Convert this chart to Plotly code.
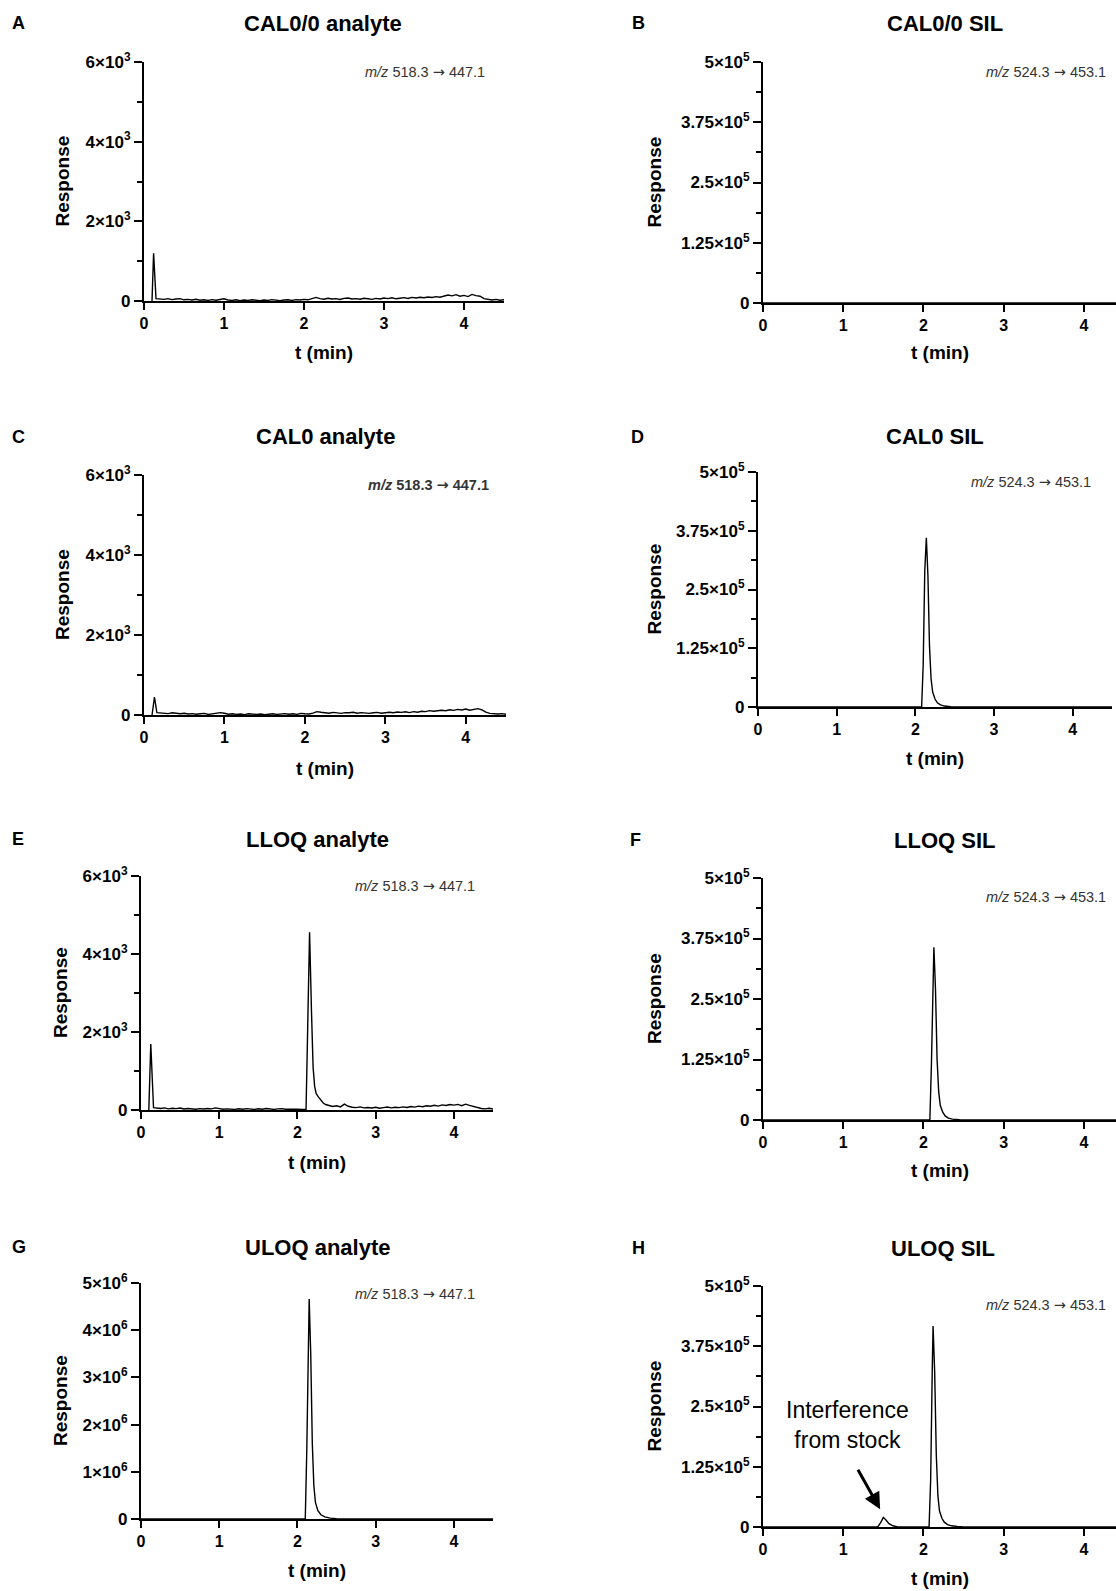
import plotly.graph_objects as go

W, H = 1116, 1591
FONT = "Liberation Sans, Arial, sans-serif"

def px(x):
    return x / W

def py(y):
    return 1 - y / H

# ---------------- data ----------------
t_grid = [0.20, 0.25, 0.30, 0.35, 0.40, 0.45, 0.50, 0.55, 0.60, 0.65,
          0.70, 0.75, 0.80, 0.85, 0.90, 0.95, 1.00, 1.05, 1.10, 1.15,
          1.20, 1.25, 1.30, 1.35, 1.40, 1.45, 1.50, 1.55, 1.60, 1.65,
          1.70, 1.75, 1.80, 1.85, 1.90, 1.95, 2.00, 2.05, 2.10, 2.15,
          2.20, 2.25, 2.30, 2.35, 2.40, 2.45, 2.50, 2.55, 2.60, 2.65,
          2.70, 2.75, 2.80, 2.85, 2.90, 2.95, 3.00, 3.05, 3.10, 3.15,
          3.20, 3.25, 3.30, 3.35, 3.40, 3.45, 3.50, 3.55, 3.60, 3.65,
          3.70, 3.75, 3.80, 3.85, 3.90, 3.95, 4.00, 4.05, 4.10, 4.15,
          4.20, 4.25, 4.30, 4.35, 4.40, 4.45, 4.50]

# A: CAL0/0 analyte
A_peak_t = [0.10, 0.12, 0.15]
A_peak_y = [0, 1200, 60]
A_base = [55, 40, 60, 35, 50, 60, 30, 40, 25, 45,
          20, 30, 15, 35, 20, 40, 55, 25, 15, 30,
          10, 25, 15, 30, 20, 10, 25, 15, 35, 20,
          10, 25, 30, 15, 35, 25, 40, 30, 55, 90,
          60, 45, 70, 50, 60, 40, 65, 75, 50, 60,
          45, 70, 55, 40, 65, 50, 75, 60, 80, 55,
          70, 85, 65, 90, 75, 95, 80, 100, 90, 110,
          95, 125, 150, 130, 160, 120, 140, 110, 165, 135,
          120, 60, 35, 25, 40, 20, 30]

# B: CAL0/0 SIL (blank)
B_t = [0.0, 1.0, 2.0, 3.0, 4.0, 4.4]
B_y = [0, 0, 0, 0, 0, 0]

# C: CAL0 analyte
C_peak_t = [0.10, 0.13, 0.16]
C_peak_y = [0, 450, 60]
C_base = [50, 45, 35, 55, 40, 30, 45, 25, 35, 20,
          30, 40, 15, 25, 35, 60, 45, 20, 30, 15,
          25, 10, 30, 20, 15, 25, 10, 20, 30, 15,
          25, 35, 20, 30, 15, 40, 30, 25, 45, 85,
          70, 55, 45, 65, 50, 40, 60, 55, 70, 45,
          60, 50, 40, 55, 65, 45, 60, 70, 55, 75,
          65, 80, 60, 85, 70, 95, 85, 110, 95, 100,
          120, 105, 130, 115, 140, 125, 150, 120, 135, 160,
          130, 70, 40, 30, 25, 35, 20]

# D: CAL0 SIL
D_t = [0.0, 2.08, 2.10, 2.12, 2.14, 2.16, 2.18, 2.20, 2.22, 2.25, 2.28, 2.32, 2.37, 2.45, 4.5]
D_y = [0, 0, 90000, 290000, 360000, 280000, 130000, 60000, 32000, 17000, 9000, 4500, 2000, 500, 0]

# E: LLOQ analyte
E_peak1_t = [0.10, 0.125, 0.16]
E_peak1_y = [0, 1690, 60]
E_base1 = [50, 40, 55, 30, 45, 35, 50, 25, 40, 30,
           20, 35, 25, 40, 30, 55, 35, 20, 30, 25,
           15, 30, 20, 35, 25, 15, 30, 20, 40, 25,
           15, 30, 35, 20, 25, 30, 20, 15]          # 0.20 .. 2.05
E_peak2_t = [2.11, 2.125, 2.155, 2.18, 2.20, 2.22, 2.24, 2.27, 2.30, 2.33, 2.36]
E_peak2_y = [20, 1500, 4560, 2500, 1100, 600, 420, 330, 260, 180, 140]
E_base2 = [120, 90, 110, 80, 150, 95, 70, 60, 80, 55,
           65, 50, 70, 45, 60, 75, 55, 70, 60, 80,
           65, 90, 75, 100, 85, 110, 95, 120, 100, 130,
           115, 140, 125, 145, 110, 150, 120, 90, 60, 40,
           30, 45, 25]                                # 2.40 .. 4.50

# F: LLOQ SIL
F_t = [0.0, 2.08, 2.10, 2.12, 2.13, 2.15, 2.17, 2.19, 2.21, 2.24, 2.27, 2.31, 2.36, 2.45, 4.4]
F_y = [0, 0, 120000, 330000, 357000, 270000, 125000, 58000, 30000, 16000, 8500, 4000, 1800, 400, 0]

# G: ULOQ analyte
G_t = [0.0, 2.10, 2.12, 2.14, 2.15, 2.17, 2.19, 2.21, 2.23, 2.26, 2.30, 2.35, 2.42, 2.50, 4.5]
G_y = [0, 0, 1500000, 4200000, 4660000, 3500000, 1600000, 700000, 350000, 180000, 90000,
       45000, 18000, 5000, 0]

# H: ULOQ SIL
H_t = [0.0, 1.43, 1.47, 1.50, 1.53, 1.57, 1.62, 1.68, 2.07, 2.09, 2.11, 2.12, 2.14, 2.16,
       2.18, 2.20, 2.23, 2.26, 2.30, 2.35, 2.42, 2.50, 4.4]
H_y = [0, 0, 10000, 20000, 15000, 7000, 2500, 0, 0, 100000, 330000, 417000, 320000, 150000,
       65000, 33000, 18000, 10000, 5000, 2500, 1000, 300, 0]

x_ticks = [0, 1, 2, 3, 4]
x_labels = ["0", "1", "2", "3", "4"]
ana_ticks = [0, 2000, 4000, 6000]
ana_labels = ["0", "2×10<sup>3</sup>", "4×10<sup>3</sup>", "6×10<sup>3</sup>"]
ana_minor = [1000, 3000, 5000]
sil_ticks = [0, 125000, 250000, 375000, 500000]
sil_labels = ["0", "1.25×10<sup>5</sup>", "2.5×10<sup>5</sup>", "3.75×10<sup>5</sup>", "5×10<sup>5</sup>"]
sil_minor = [62500, 187500, 312500, 437500]
uloq_ticks = [0, 1e6, 2e6, 3e6, 4e6, 5e6]
uloq_labels = ["0", "1×10<sup>6</sup>", "2×10<sup>6</sup>", "3×10<sup>6</sup>", "4×10<sup>6</sup>", "5×10<sup>6</sup>"]

ARROW = "<span style='font-family:DejaVu Sans'>→</span>"
mz_ana = f"<i>m/z</i> 518.3 {ARROW} 447.1"
mz_sil = f"<i>m/z</i> 524.3 {ARROW} 453.1"

A_t = A_peak_t + t_grid
A_y = A_peak_y + A_base
C_t = C_peak_t + t_grid
C_y = C_peak_y + C_base
E_t = E_peak1_t + t_grid[:38] + E_peak2_t + t_grid[44:]
E_y = E_peak1_y + E_base1 + E_peak2_y + E_base2

# ---------------- layout config ----------------
panels = [
    dict(L="A", title="CAL0/0 analyte", t=A_t, y=A_y, xd=(144, 504), yd=(62, 301), xr=4.5,
         yt=(ana_ticks, ana_labels, ana_minor, 6000), mz=mz_ana, mzb=False, mzxy=(487, 72),
         txy=(323, 23), lxy=(10, 23), ylx=62, xly=353),
    dict(L="B", title="CAL0/0 SIL", t=B_t, y=B_y, xd=(763, 1116), yd=(62, 303), xr=4.4,
         yt=(sil_ticks, sil_labels, sil_minor, 500000), mz=mz_sil, mzb=False, mzxy=(1108, 72),
         txy=(945, 23), lxy=(630, 23), ylx=654, xly=353),
    dict(L="C", title="CAL0 analyte", t=C_t, y=C_y, xd=(144, 506), yd=(475, 715), xr=4.5,
         yt=(ana_ticks, ana_labels, ana_minor, 6000), mz=mz_ana, mzb=True, mzxy=(491, 485),
         txy=(325, 437), lxy=(10, 437), ylx=62, xly=768),
    dict(L="D", title="CAL0 SIL", t=D_t, y=D_y, xd=(758, 1112), yd=(472, 707), xr=4.5,
         yt=(sil_ticks, sil_labels, sil_minor, 500000), mz=mz_sil, mzb=False, mzxy=(1093, 482),
         txy=(935, 437), lxy=(629, 437), ylx=654, xly=758),
    dict(L="E", title="LLOQ analyte", t=E_t, y=E_y, xd=(141, 493), yd=(876, 1110), xr=4.5,
         yt=(ana_ticks, ana_labels, ana_minor, 6000), mz=mz_ana, mzb=False, mzxy=(477, 886),
         txy=(317, 839), lxy=(10, 839), ylx=60, xly=1162),
    dict(L="F", title="LLOQ SIL", t=F_t, y=F_y, xd=(763, 1116), yd=(878, 1120), xr=4.4,
         yt=(sil_ticks, sil_labels, sil_minor, 500000), mz=mz_sil, mzb=False, mzxy=(1108, 897),
         txy=(944, 840), lxy=(628, 840), ylx=654, xly=1170),
    dict(L="G", title="ULOQ analyte", t=G_t, y=G_y, xd=(141, 493), yd=(1283, 1519), xr=4.5,
         yt=(uloq_ticks, uloq_labels, None, 5e6), mz=mz_ana, mzb=False, mzxy=(477, 1294),
         txy=(317, 1247), lxy=(10, 1247), ylx=60, xly=1570),
    dict(L="H", title="ULOQ SIL", t=H_t, y=H_y, xd=(763, 1116), yd=(1286, 1527), xr=4.4,
         yt=(sil_ticks, sil_labels, sil_minor, 500000), mz=mz_sil, mzb=False, mzxy=(1108, 1305),
         txy=(943, 1248), lxy=(630, 1248), ylx=654, xly=1578),
]

fig = go.Figure()
layout = dict(
    template="none",
    width=W, height=H, margin=dict(l=0, r=0, t=0, b=0, pad=0), autosize=False,
    paper_bgcolor="white", plot_bgcolor="white", showlegend=False,
    font=dict(family=FONT, color="black", size=14),
)
annotations = []

for i, p in enumerate(panels):
    n = i + 1
    xa = "x" if n == 1 else f"x{n}"
    ya = "y" if n == 1 else f"y{n}"
    xkey = "xaxis" if n == 1 else f"xaxis{n}"
    ykey = "yaxis" if n == 1 else f"yaxis{n}"
    fig.add_trace(go.Scatter(x=p["t"], y=p["y"], mode="lines", xaxis=xa, yaxis=ya,
                             line=dict(color="black", width=1.4), hoverinfo="skip"))
    ticks, labels, minor, ymax = p["yt"]
    layout[xkey] = dict(
        domain=[px(p["xd"][0]), px(p["xd"][1])], anchor=ya, range=[0, p["xr"]],
        automargin=False,
        showline=True, linecolor="black", linewidth=2.2, ticks="outside", ticklen=7,
        tickwidth=2.2, tickcolor="black", showgrid=False, zeroline=False,
        tickvals=x_ticks, ticktext=x_labels,
        tickfont=dict(family=FONT, size=16, color="black", weight="bold"),
    )
    yax = dict(
        domain=[py(p["yd"][1]), py(p["yd"][0])], anchor=xa, range=[0, ymax],
        automargin=False,
        showline=True, linecolor="black", linewidth=2.2, ticks="outside", ticklen=8,
        tickwidth=2.2, tickcolor="black", showgrid=False, zeroline=False,
        tickvals=ticks, ticktext=labels,
        tickfont=dict(family=FONT, size=17, color="black", weight="bold"),
    )
    if minor:
        yax["minor"] = dict(tickvals=minor, ticks="outside", ticklen=5, tickwidth=2.2,
                            tickcolor="black", showgrid=False)
    layout[ykey] = yax

    # panel letter
    annotations.append(dict(text=f"<b>{p['L']}</b>", x=px(p["lxy"][0]), y=py(p["lxy"][1]),
                            xref="paper", yref="paper", xanchor="left", yanchor="middle",
                            showarrow=False, font=dict(size=18, family=FONT)))
    # title
    annotations.append(dict(text=f"<b>{p['title']}</b>", x=px(p["txy"][0]), y=py(p["txy"][1]),
                            xref="paper", yref="paper", xanchor="center", yanchor="middle",
                            showarrow=False, font=dict(size=22, family=FONT)))
    # y label
    annotations.append(dict(text="<b>Response</b>", x=px(p["ylx"]),
                            y=py((p["yd"][0] + p["yd"][1]) / 2),
                            xref="paper", yref="paper", xanchor="center", yanchor="middle",
                            textangle=-90, showarrow=False, font=dict(size=19, family=FONT)))
    # x label
    annotations.append(dict(text="<b>t (min)</b>", x=px((p["xd"][0] + p["xd"][1]) / 2),
                            y=py(p["xly"]),
                            xref="paper", yref="paper", xanchor="center", yanchor="middle",
                            showarrow=False, font=dict(size=19, family=FONT)))
    # m/z label
    mz = f"<b>{p['mz']}</b>" if p["mzb"] else p["mz"]
    annotations.append(dict(text=mz, x=px(p["mzxy"][0]), y=py(p["mzxy"][1]),
                            xref="paper", yref="paper", xanchor="right", yanchor="middle",
                            showarrow=False, font=dict(size=14.5, family=FONT, color="#333333")))

# interference annotation in H
annotations.append(dict(text="Interference<br>from stock", x=px(847), y=py(1425),
                        xref="paper", yref="paper", xanchor="center", yanchor="middle",
                        showarrow=False, font=dict(size=23, family=FONT, color="black")))
annotations.append(dict(text="", x=1.46, y=37000, xref="x8", yref="y8",
                        ax=-23, ay=-41, axref="pixel", ayref="pixel",
                        showarrow=True, arrowhead=2, arrowsize=1.1, arrowwidth=3,
                        arrowcolor="black"))

layout["annotations"] = annotations
fig.update_layout(**layout)
fig.write_html("out.html", config={"displayModeBar": False},
               post_script="document.body.style.margin='0';document.body.style.padding='0';")
